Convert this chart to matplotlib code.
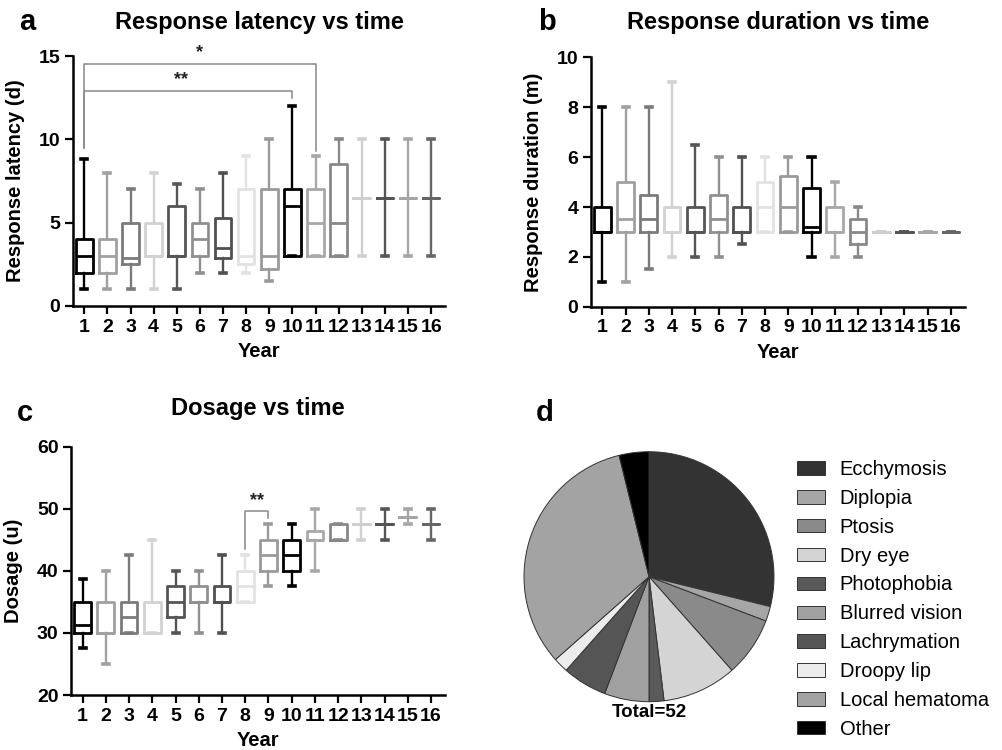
import matplotlib
matplotlib.use('Agg')
import matplotlib.pyplot as plt

plt.rcParams['font.family'] = ['Liberation Sans', 'DejaVu Sans']
plt.rcParams['font.weight'] = 'bold'

years = list(range(1, 17))
year_colors = ['#000000', '#a0a0a0', '#7a7a7a', '#d2d2d2', '#555555', '#909090',
               '#505050', '#e2e2e2', '#9a9a9a', '#000000', '#a8a8a8', '#888888',
               '#cfcfcf', '#555555', '#a5a5a5', '#666666']

# a: response latency (d)
lat_lo = [1, 1, 1, 1, 1, 2, 2, 2, 1.5, 3, 3, 3, 3, 3, 3, 3]
lat_q1 = [2, 2, 2.5, 3, 3, 3, 2.9, 2.5, 2.25, 3, 3, 3, 6.5, 6.5, 6.5, 6.5]
lat_med = [3, 3, 2.9, 3, 3, 4, 3.5, 3, 3, 6, 5, 5, 6.5, 6.5, 6.5, 6.5]
lat_q3 = [4, 4, 5, 5, 6, 5, 5.3, 7, 7, 7, 7, 8.5, 6.5, 6.5, 6.5, 6.5]
lat_hi = [8.8, 8, 7, 8, 7.3, 7, 8, 9, 10, 12, 9, 10, 10, 10, 10, 10]

# b: response duration (m)
dur_lo = [1, 1, 1.5, 2, 2, 2, 2.5, 3, 3, 2, 2, 2, 3, 3, 3, 3]
dur_q1 = [3, 3, 3, 3, 3, 3, 3, 3, 3, 3, 3, 2.5, 3, 3, 3, 3]
dur_med = [3, 3.5, 3.5, 3, 3, 3.5, 3, 4, 4, 3.2, 3, 3, 3, 3, 3, 3]
dur_q3 = [4, 5, 4.5, 4, 4, 4.5, 4, 5, 5.25, 4.75, 4, 3.5, 3, 3, 3, 3]
dur_hi = [8, 8, 8, 9, 6.5, 6, 6, 6, 6, 6, 5, 4, 3, 3, 3, 3]

# c: dosage (u)
dos_lo = [27.5, 25, 30, 30, 30, 30, 30, 35, 37.5, 37.5, 40, 45, 45, 45, 47.5, 45]
dos_q1 = [30, 30, 30, 30, 32.5, 35, 35, 35, 40, 40, 45, 45, 47.5, 47.5, 48.75, 47.5]
dos_med = [31.25, 30, 32.5, 30, 35, 35, 35, 37.5, 42.5, 42.5, 45, 45, 47.5, 47.5, 48.75, 47.5]
dos_q3 = [35, 35, 35, 35, 37.5, 37.5, 37.5, 40, 45, 45, 46.5, 47.5, 47.5, 47.5, 48.75, 47.5]
dos_hi = [38.75, 40, 42.5, 45, 40, 40, 42.5, 42.5, 47.5, 47.5, 50, 47.5, 50, 50, 50, 50]

# d: side effects
effects = ['Ecchymosis', 'Diplopia', 'Ptosis', 'Dry eye', 'Photophobia', 'Blurred vision',
           'Lachrymation', 'Droopy lip', 'Local hematoma', 'Other']
counts = [15, 1, 4, 5, 1, 3, 3, 1, 17, 2]
pie_colors = ['#333333', '#a6a6a6', '#8a8a8a', '#d4d4d4', '#5a5a5a', '#a0a0a0',
              '#555555', '#ececec', '#a3a3a3', '#000000']


def draw_boxes(ax, lo, q1, med, q3, hi):
    for i in range(len(years)):
        s = dict(whislo=lo[i], q1=q1[i], med=med[i], q3=q3[i], whishi=hi[i], fliers=[])
        c = year_colors[i]
        ax.bxp([s], positions=[years[i]], widths=0.72, capwidths=0.26, showfliers=False,
               boxprops=dict(color=c, lw=2.0),
               whiskerprops=dict(color=c, lw=1.7),
               capprops=dict(color=c, lw=2.6),
               medianprops=dict(color=c, lw=2.0))


def style(ax, ylim, yticks, ylabel):
    ax.set_xlim(0.5, 16.6)
    ax.set_ylim(*ylim)
    ax.set_yticks(yticks)
    ax.set_xticks(years)
    ax.set_xticklabels([str(y) for y in years])
    ax.spines[['top', 'right']].set_visible(False)
    ax.spines[['left', 'bottom']].set_linewidth(1.8)
    ax.tick_params(width=1.6, length=6, labelsize=14, pad=3)
    ax.set_xlabel('Year', fontsize=14.5, fontweight='bold', labelpad=5)
    ax.set_ylabel(ylabel, fontsize=14.5, fontweight='bold')
    ax.yaxis.set_label_coords(-0.128, 0.5)


fig = plt.figure(figsize=(10.03, 7.5), dpi=100)

ax_a = fig.add_axes([0.0725, 0.592, 0.3712, 0.3333])
ax_b = fig.add_axes([0.589, 0.591, 0.373, 0.3325])
ax_c = fig.add_axes([0.0708, 0.0733, 0.3729, 0.3311])
ax_d = fig.add_axes([0.5224, 0.0644, 0.2493, 0.3333])

draw_boxes(ax_a, lat_lo, lat_q1, lat_med, lat_q3, lat_hi)
style(ax_a, (0, 15), [0, 5, 10, 15], 'Response latency (d)')
ax_a.plot([1, 1, 11, 11], [9.5, 14.5, 14.5, 9.3], color='#888888', lw=1.1)
ax_a.plot([1, 1, 10, 10], [9.5, 12.9, 12.9, 12.5], color='#888888', lw=1.1)
ax_a.text(6, 14.7, '*', ha='center', va='bottom', fontsize=13, color='#222222')
ax_a.text(5.2, 13.1, '**', ha='center', va='bottom', fontsize=13, color='#222222')

draw_boxes(ax_b, dur_lo, dur_q1, dur_med, dur_q3, dur_hi)
style(ax_b, (0, 10), [0, 2, 4, 6, 8, 10], 'Response duration (m)')

draw_boxes(ax_c, dos_lo, dos_q1, dos_med, dos_q3, dos_hi)
style(ax_c, (20, 60), [20, 30, 40, 50, 60], 'Dosage (u)')
ax_c.plot([8, 8, 9, 9], [43.5, 49.7, 49.7, 48.5], color='#888888', lw=1.1)
ax_c.text(8.5, 49.9, '**', ha='center', va='bottom', fontsize=13, color='#222222')

wedges, _ = ax_d.pie(counts, colors=pie_colors, startangle=90, counterclock=False,
                     wedgeprops=dict(edgecolor='#333333', linewidth=0.7))
ax_d.set_xlim(-1, 1)
ax_d.set_ylim(-1, 1)
ax_d.text(0, -1.02, 'Total=52', ha='center', va='top', fontsize=13.5, fontweight='bold')
ax_d.legend(wedges, effects, loc='upper left', bbox_to_anchor=(797 / 1003, 1 - 460 / 750),
            bbox_transform=fig.transFigure, frameon=False, borderpad=0, borderaxespad=0,
            prop={'weight': 'normal', 'size': 14.5}, handlelength=1.4, handleheight=0.65,
            labelspacing=0.49, handletextpad=0.72)

fig.text(259 / 1003, 1 - 22 / 750, 'Response latency vs time', ha='center', va='center',
         fontsize=17, fontweight='bold')
fig.text(778 / 1003, 1 - 22 / 750, 'Response duration vs time', ha='center', va='center',
         fontsize=17, fontweight='bold')
fig.text(258 / 1003, 1 - 409 / 750, 'Dosage vs time', ha='center', va='center',
         fontsize=17, fontweight='bold')

for lab, x, y in [('a', 27, 22), ('b', 547, 22), ('c', 25, 413), ('d', 545, 413)]:
    fig.text(x / 1003, 1 - y / 750, lab, ha='center', va='center', fontsize=21, fontweight='bold')

fig.savefig('out.png', dpi=100)
